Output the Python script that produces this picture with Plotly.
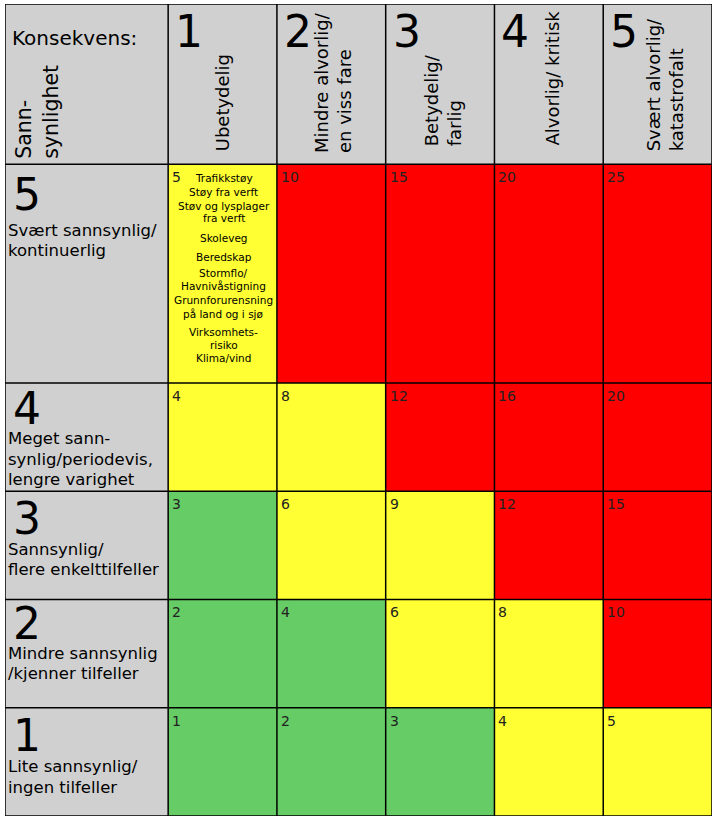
import plotly.graph_objects as go

# ---------------- data ----------------
consequence_nums = ["1", "2", "3", "4", "5"]
consequence_labels = ["Ubetydelig", "Mindre alvorlig/<br>en viss fare", "Betydelig/<br>farlig",
                      "Alvorlig/ kritisk", "Svært alvorlig/<br>katastrofalt"]
likelihood_nums = ["5", "4", "3", "2", "1"]  # top to bottom
likelihood_labels = [["Svært sannsynlig/", "kontinuerlig"],
                     ["Meget sann-", "synlig/periodevis,", "lengre varighet"],
                     ["Sannsynlig/", "flere enkelttilfeller"],
                     ["Mindre sannsynlig", "/kjenner tilfeller"],
                     ["Lite sannsynlig/", "ingen tilfeller"]]
# risk scores, rows = likelihood 5..1, cols = consequence 1..5
risk_scores = [
    [5, 10, 15, 20, 25],
    [4, 8, 12, 16, 20],
    [3, 6, 9, 12, 15],
    [2, 4, 6, 8, 10],
    [1, 2, 3, 4, 5],
]
# colour level: 1 = green, 2 = yellow, 3 = red
risk_levels = [
    [2, 3, 3, 3, 3],
    [2, 2, 3, 3, 3],
    [1, 2, 2, 3, 3],
    [1, 1, 2, 2, 3],
    [1, 1, 1, 2, 2],
]
hazards = ["Trafikkstøy", "Støy fra verft", "Støv og lysplager", "fra verft", "Skoleveg",
           "Beredskap", "Stormflo/", "Havnivåstigning", "Grunnforurensning",
           "på land og i sjø", "Virksomhets-", "risiko", "Klima/vind"]

# ---------------- layout geometry ----------------
x_edges = [0, 1.5, 2.5, 3.5, 4.5, 5.5, 6.5]          # label column + 5 consequence columns
y_edges = [0, 1, 2, 3, 4, 6.02, 7.5]                 # likelihood 1..5 rows + header (bottom-up)
hazard_centers_px = [14, 28, 42, 54, 74, 93, 109, 122, 136, 150, 168, 181, 194]  # from row top
num_top_px = [3, -2, 0, -3, 0]      # big row number offsets
lbl_top_px = [66, 56, 58, 54, 59]   # first label line center offsets

GRAY, GREEN, YELLOW, RED = "#d0d0d0", "#66cc66", "#ffff33", "#ff0000"
FONT = "DejaVu Sans"

z = []
for r in range(6):
    row = [0]
    row += risk_levels[4 - r] if r < 5 else [0] * 5
    z.append(row)

colorscale = [[0, GRAY], [0.25, GRAY], [0.25, GREEN], [0.5, GREEN],
              [0.5, YELLOW], [0.75, YELLOW], [0.75, RED], [1, RED]]

fig = go.Figure(go.Heatmap(x=x_edges, y=y_edges, z=z, zmin=-0.5, zmax=3.5,
                           colorscale=colorscale, showscale=False, hoverinfo="skip"))

shapes = []
for xv in x_edges:
    shapes.append(dict(type="line", xref="x", yref="y", x0=xv, x1=xv, y0=y_edges[0], y1=y_edges[-1],
                       line=dict(color="black", width=1.5)))
for yv in y_edges:
    shapes.append(dict(type="line", xref="x", yref="y", x0=x_edges[0], x1=x_edges[-1], y0=yv, y1=yv,
                       line=dict(color="black", width=1.5)))

ann = []
def A(**kw):
    d = dict(showarrow=False, xref="x", yref="y", font=dict(family=FONT, color="black"))
    f = kw.pop("font", {})
    d["font"].update(f)
    d.update(kw)
    ann.append(d)

hdr_top = y_edges[6]
hdr_bot = y_edges[5]
# corner cell
A(x=x_edges[0], y=hdr_top, text="Konsekvens:", xanchor="left", yanchor="top", xshift=5, yshift=-20,
  font=dict(size=20))
A(x=x_edges[0], y=hdr_bot, text="Sann-<br>synlighet", textangle=-90, align="left",
  xanchor="left", yanchor="bottom", xshift=5, yshift=3, font=dict(size=20.5))

# column headers
lbl_shift = [0, 1, 3, 4, 7]
lbl_bottom = [11, 9, 16, 17, 11]
for c in range(5):
    xl = x_edges[c + 1]
    xc = (x_edges[c + 1] + x_edges[c + 2]) / 2
    A(x=xl, y=hdr_top, text=consequence_nums[c], xanchor="left", yanchor="top", xshift=5, yshift=0,
      font=dict(size=44))
    A(x=xc, y=hdr_bot, text=consequence_labels[c], textangle=-90, align="left",
      xanchor="center", yanchor="bottom", xshift=lbl_shift[c], yshift=lbl_bottom[c], font=dict(size=18))

# row headers and cells
for r in range(5):
    ytop = y_edges[5 - r]
    A(x=x_edges[0], y=ytop, text=likelihood_nums[r], xanchor="left", yanchor="top", xshift=6,
      yshift=-(num_top_px[r]), font=dict(size=44))
    for k, line in enumerate(likelihood_labels[r]):
        A(x=x_edges[0], y=ytop, text=line, xanchor="left", yanchor="middle",
          xshift=1, yshift=-(lbl_top_px[r] + 20.5 * k), font=dict(size=16.5))
    for c in range(5):
        A(x=x_edges[c + 1], y=ytop, text=str(risk_scores[r][c]), xanchor="left", yanchor="top",
          xshift=2, yshift=-3, font=dict(size=14, color="#222"))

# hazard list in cell (5,1)
xc = (x_edges[1] + x_edges[2]) / 2
for i, h in enumerate(hazards):
    A(x=xc, y=y_edges[5], text=h, xanchor="center", yanchor="middle", align="center",
      xshift=1, yshift=-hazard_centers_px[i], font=dict(size=10.5))

fig.update_layout(
    width=717, height=823,
    margin=dict(l=5, r=5, t=4, b=7),
    paper_bgcolor="white", plot_bgcolor="white",
    xaxis=dict(range=[x_edges[0], x_edges[-1]], visible=False, fixedrange=True),
    yaxis=dict(range=[y_edges[0], y_edges[-1]], visible=False, fixedrange=True),
    shapes=shapes, annotations=ann, showlegend=False,
)
fig.write_html("out.html", config={"displayModeBar": False},
               post_script="document.body.style.margin='0px';")
